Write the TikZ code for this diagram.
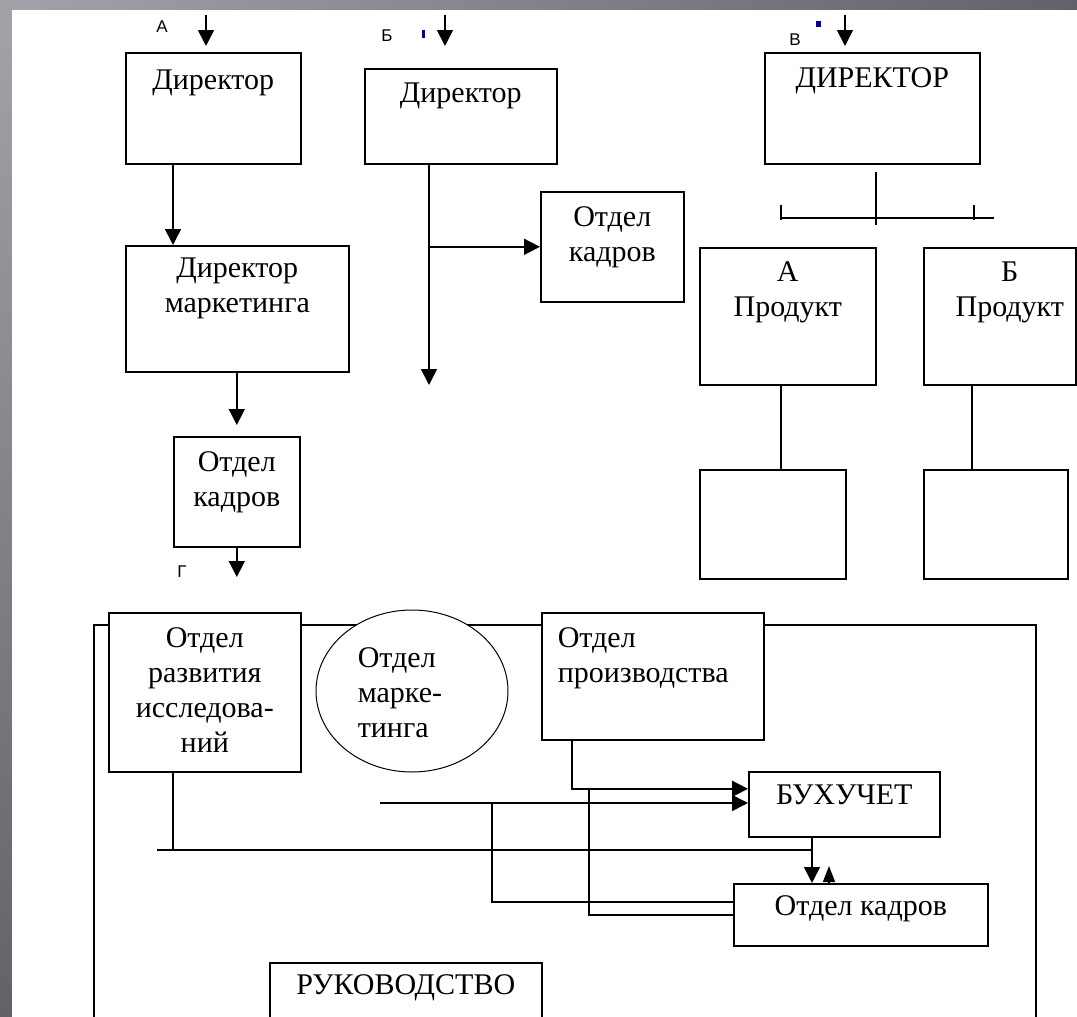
\documentclass[tikz,border=0pt]{standalone}
\usepackage{fontspec}
\setmainfont{Liberation Serif}
\newfontfamily\lblfont{Liberation Sans}
\usetikzlibrary{arrows.meta,positioning,shapes.geometric}
\definecolor{slidelight}{RGB}{162,162,168}
\definecolor{slidedark}{RGB}{98,98,104}
\definecolor{dotblue}{RGB}{0,0,140}

\tikzset{
  box/.style={draw, fill=white, line width=1.6pt, inner sep=0pt, anchor=north west},
  txt/.style={font=\fontsize{30}{35}\selectfont, inner sep=0pt, align=center},
  lbl/.style={font=\lblfont\fontsize{17}{17}\selectfont, inner sep=0pt},
  arr/.style={-{Triangle[length=16pt,width=16pt]}},
  smallarr/.style={-{Triangle[length=16pt,width=12pt]}},
}

\begin{document}
\begin{tikzpicture}[x=1pt, y=-1pt, line width=1.6pt]
  \useasboundingbox (0,0) rectangle (1077,1017);
  \clip (0,0) rectangle (1077,1017);
  % slide background
  \shade[left color=slidelight, right color=slidedark] (0,0) rectangle (1077,10);
  \shade[top color=slidelight, bottom color=slidedark] (0,10) rectangle (12,1017);
  \fill[white] (12,10) rectangle (1077,1017);

  % A
  \node[lbl] (lblA) at (162,27) {А};
  \coordinate (inA) at (206,15);
  \draw[arr] (inA) -- ++(0,31);
  \node[box, minimum width=175pt, minimum height=111pt] (dirA) at (125,52) {};
  \node[txt, below=17pt of dirA.north] (dirAt) {Директор};
  \node[box, minimum width=223pt, minimum height=126pt] (mktA) at (125,245) {};
  \node[txt, below=12pt of mktA.north] (mktAt) {Директор\\маркетинга};
  \node[box, minimum width=126pt, minimum height=110pt] (kadrA) at (173,436) {};
  \node[txt, below=15pt of kadrA.north] (kadrAt) {Отдел\\кадров};
  \draw[arr] ([xshift=48pt]dirA.south west) -- ([xshift=48pt]mktA.north west);
  \draw[arr] (kadrA.north |- mktA.south) -- ([yshift=11pt]kadrA.north);
  \node[lbl] (lblG) at (182,572) {Г};
  \coordinate (outG) at (236,577);
  \draw[arr] (kadrA.south) -- (kadrA.south |- outG);

  % B
  \node[lbl] (lblB) at (387,36) {Б};
  \fill[dotblue] (422,30) rectangle (425,38);
  \coordinate (inB) at (445,15);
  \draw[arr] (inB) -- ++(0,31);
  \node[box, minimum width=192pt, minimum height=95pt] (dirB) at (364,68) {};
  \node[txt, below=14pt of dirB.north] (dirBt) {Директор};
  \node[box, minimum width=143pt, minimum height=110pt] (kadrB) at (540,191) {};
  \node[txt, below=15pt of kadrB.north] (kadrBt) {Отдел\\кадров};
  \coordinate (outB) at (429,385);
  \draw[arr] ([xshift=65pt]dirB.south west) -- (outB);
  \draw[arr] (kadrB.west -| outB) -- (kadrB.west);

  % V
  \node[lbl] (lblV) at (795,40) {В};
  \fill[dotblue] (816,21) rectangle (821,27);
  \coordinate (inV) at (845,15);
  \draw[arr] (inV) -- ++(0,31);
  \node[box, minimum width=215pt, minimum height=111pt] (dirV) at (764,52) {};
  \node[txt, below=15pt of dirV.north] (dirVt) {ДИРЕКТОР};
  \draw ([shift={(3.5pt,-7pt)}]dirV.south) -- ++(0,53);
  \draw (781,218) -- (994,218);
  \draw (781,205) -- (781,220);
  \draw (974,205) -- (974,220);
  \node[box, minimum width=176pt, minimum height=137pt] (prodA) at (699,247) {};
  \node[txt, below=14pt of prodA.north] (prodAt) {А\\Продукт};
  \node[box, minimum width=152pt, minimum height=137pt] (prodB) at (923,247) {};
  \node[txt, below=14pt of prodB.north, xshift=10pt] (prodBt) {Б\\Продукт};
  \node[box, minimum width=146pt, minimum height=109pt] (subA) at (699,469) {};
  \node[box, minimum width=144pt, minimum height=109pt] (subB) at (923,469) {};
  \draw ([xshift=82pt]prodA.south west) -- ([xshift=82pt]subA.north west);
  \draw ([xshift=49pt]prodB.south west) -- ([xshift=49pt]subB.north west);

  % G
  \draw (94,1040) |- (1036,625) -- (1036,1040);
  \node[box, minimum width=192pt, minimum height=159pt] (razv) at (108,612) {};
  \node[txt, below=15pt of razv.north] (razvt) {Отдел\\развития\\исследова-\\ний};
  \node[draw, fill=white, ellipse, line width=1pt, inner sep=0pt,
        minimum width=192pt, minimum height=162pt] (mktG) at (412,691) {};
  \node[txt, align=left, anchor=north west] (mktGt) at (357,647) {Отдел\\марке-\\тинга};
  \node[box, minimum width=222pt, minimum height=127pt] (proizv) at (541,612) {};
  \node[txt, align=left, anchor=north west] (proizvt) at (557,627) {Отдел\\производства};
  \node[box, minimum width=191pt, minimum height=65pt] (buh) at (748,771) {};
  \node[txt, below=13pt of buh.north] (buht) {БУХУЧЕТ};
  \node[box, minimum width=254pt, minimum height=62pt] (kadrG) at (733,883) {};
  \node[txt, below=12pt of kadrG.north] (kadrGt) {Отдел кадров};
  \node[box, minimum width=272pt, minimum height=90pt] (ruk) at (269,962) {};
  \node[txt, below=12pt of ruk.north] (rukt) {РУКОВОДСТВО};

  \coordinate (busL) at (157,850);
  \coordinate (mktIn) at (380,803);
  \coordinate (j1) at (589,788);
  \coordinate (j2) at (492,803);
  \draw[arr] ([xshift=31pt]proizv.south west) |- ([yshift=15.5pt]buh.west);
  \draw[arr] (mktIn) -- (mktIn -| buh.west);
  \draw (j1) |- (kadrG.west);
  \draw (j2) |- ([yshift=13pt]kadrG.west);
  \draw ([xshift=65pt]razv.south west) -- ([xshift=65pt]razv.south west |- busL);
  \draw (busL) -- ([xshift=64pt]buh.south west |- busL);
  \draw[arr] ([xshift=64pt]buh.south west) -- ([xshift=64pt]buh.south west |- kadrG.north);
  \draw[smallarr] ([xshift=96pt]kadrG.north west) -- ++(0,-17);
\end{tikzpicture}
\end{document}
